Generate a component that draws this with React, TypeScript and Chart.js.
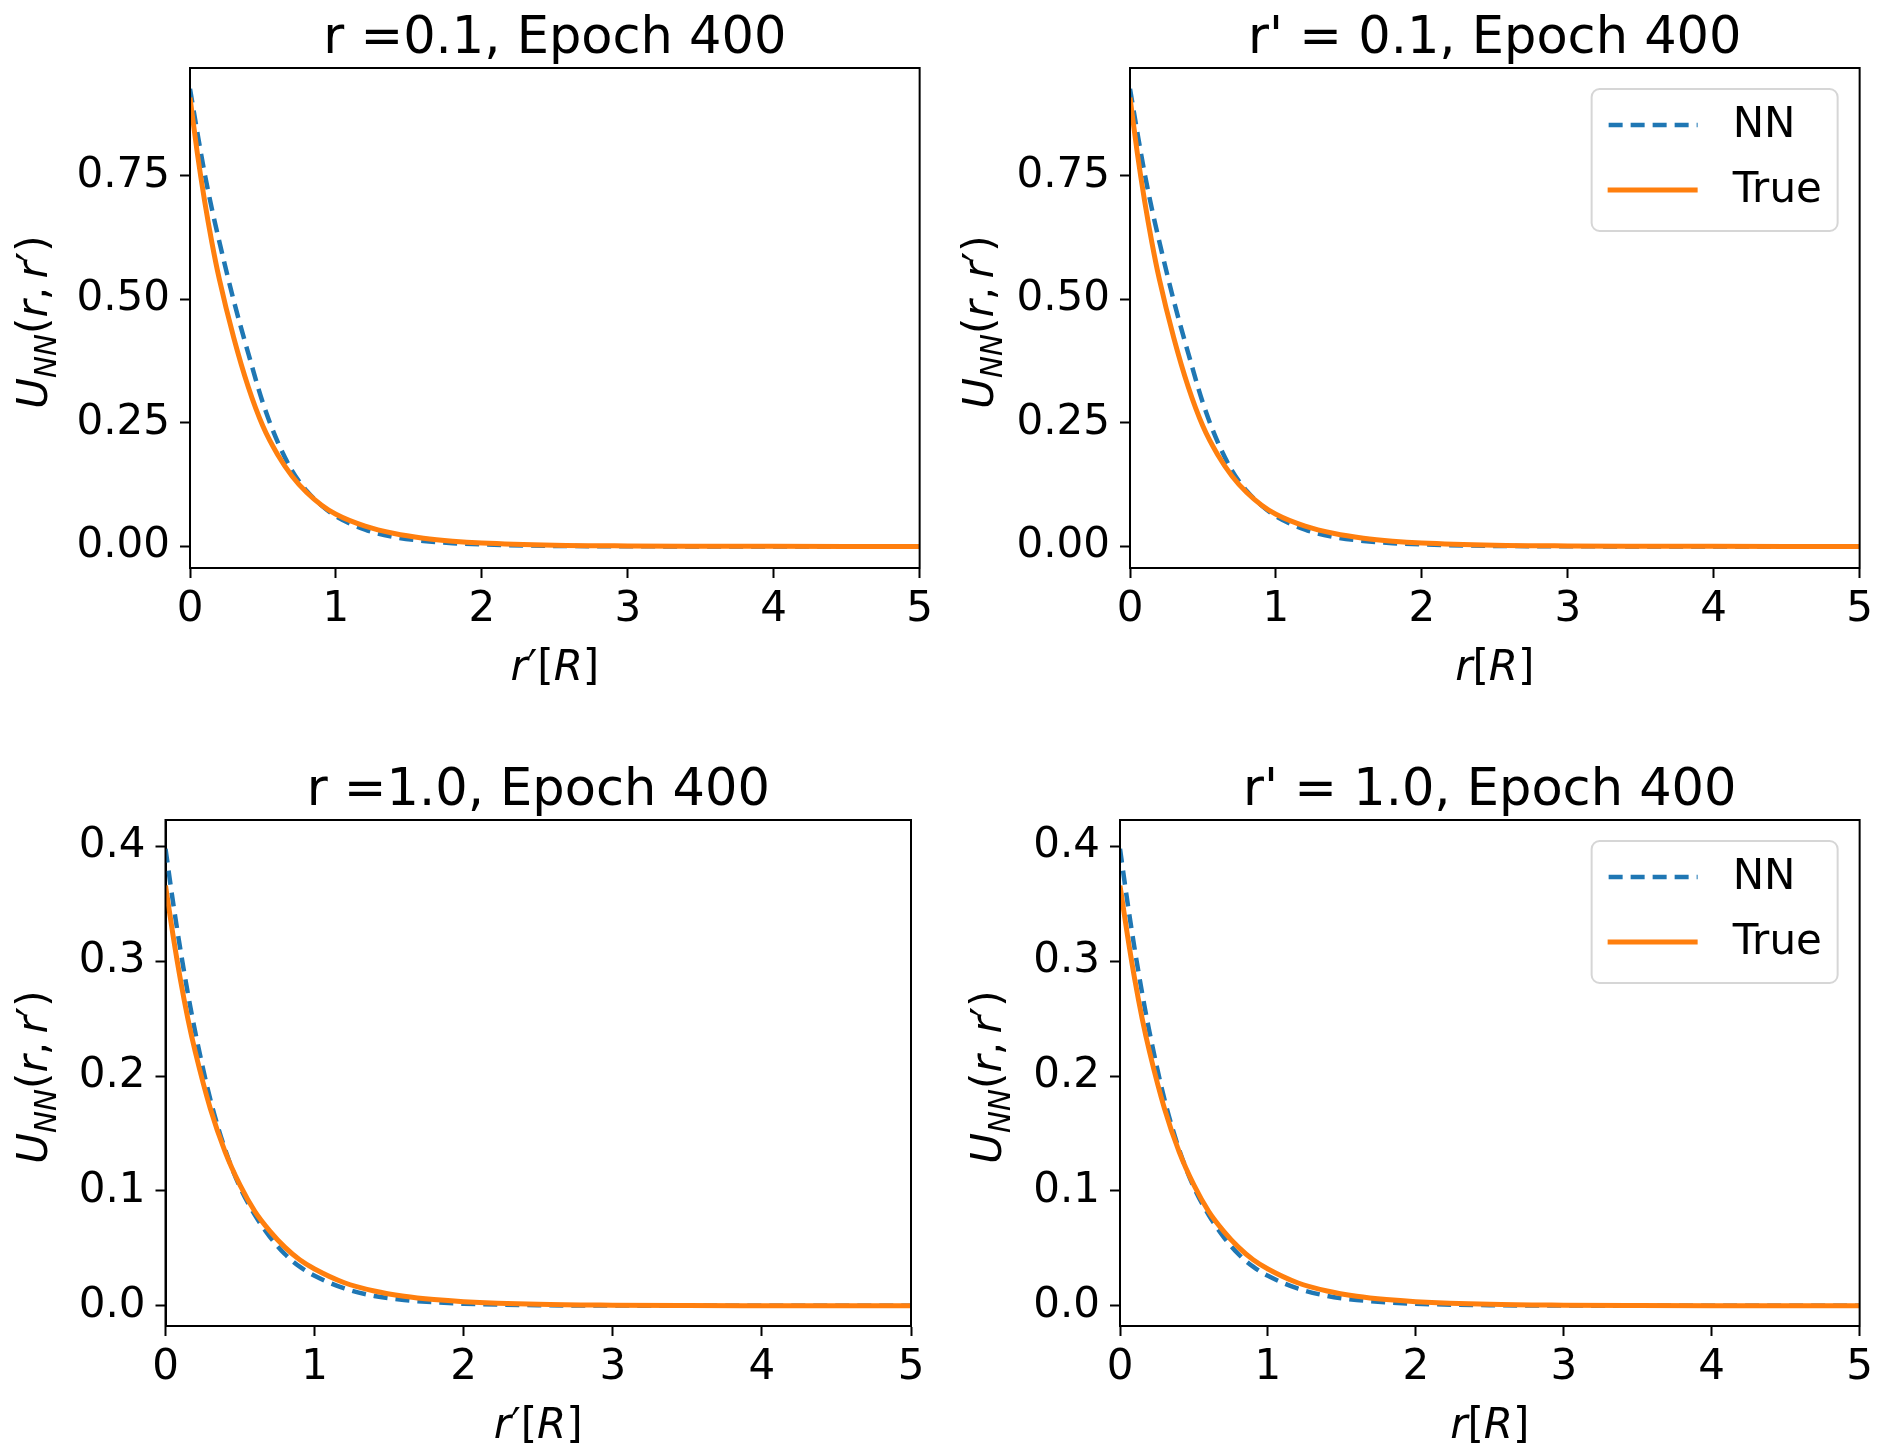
import { useEffect, useRef } from 'react';
import { Chart, registerables } from 'chart.js';

Chart.register(...registerables);

// ---------------- data ----------------
const xGrid = [0, 0.05, 0.1, 0.15, 0.2, 0.3, 0.4, 0.5, 0.6, 0.7, 0.8, 0.9, 1.0, 1.2, 1.4, 1.6, 1.8, 2.0, 2.5, 3.0, 3.5, 4.0, 4.5, 5.0];

const nnTopLeft = [0.926, 0.838, 0.755, 0.683, 0.618, 0.497, 0.39, 0.29, 0.212, 0.153, 0.112, 0.083, 0.061, 0.034, 0.019, 0.011, 0.0065, 0.004, 0.001, 0.0002, 0, 0, 0, 0];
const trueTopLeft = [0.908, 0.796, 0.699, 0.615, 0.542, 0.422, 0.322, 0.243, 0.186, 0.142, 0.109, 0.084, 0.065, 0.041, 0.026, 0.0165, 0.0105, 0.0068, 0.0024, 0.0009, 0.0003, 0.0001, 0, 0];

const nnTopRight = [0.926, 0.838, 0.755, 0.683, 0.618, 0.497, 0.39, 0.29, 0.212, 0.153, 0.112, 0.083, 0.061, 0.034, 0.019, 0.011, 0.0065, 0.004, 0.001, 0.0002, 0, 0, 0, 0];
const trueTopRight = [0.908, 0.796, 0.699, 0.615, 0.542, 0.422, 0.322, 0.243, 0.186, 0.142, 0.109, 0.084, 0.065, 0.041, 0.026, 0.0165, 0.0105, 0.0068, 0.0024, 0.0009, 0.0003, 0.0001, 0, 0];

const nnBottomLeft = [0.398, 0.352, 0.31, 0.272, 0.238, 0.18, 0.136, 0.103, 0.079, 0.06, 0.045, 0.034, 0.026, 0.015, 0.0085, 0.005, 0.003, 0.0017, 0.0004, 0.0001, 0, 0, 0, 0];
const trueBottomLeft = [0.366, 0.323, 0.284, 0.25, 0.221, 0.172, 0.134, 0.105, 0.082, 0.065, 0.051, 0.04, 0.032, 0.02, 0.0128, 0.0082, 0.0053, 0.0035, 0.0012, 0.0004, 0.0001, 0, 0, 0];

const nnBottomRight = [0.398, 0.352, 0.31, 0.272, 0.238, 0.18, 0.136, 0.103, 0.079, 0.06, 0.045, 0.034, 0.026, 0.015, 0.0085, 0.005, 0.003, 0.0017, 0.0004, 0.0001, 0, 0, 0, 0];
const trueBottomRight = [0.366, 0.323, 0.284, 0.25, 0.221, 0.172, 0.134, 0.105, 0.082, 0.065, 0.051, 0.04, 0.032, 0.02, 0.0128, 0.0082, 0.0053, 0.0035, 0.0012, 0.0004, 0.0001, 0, 0, 0];

const xTicks = [0, 1, 2, 3, 4, 5];
const xTickLabels = ['0', '1', '2', '3', '4', '5'];
const yTicksTop = [0, 0.25, 0.5, 0.75];
const yTickLabelsTop = ['0.00', '0.25', '0.50', '0.75'];
const yTicksBottom = [0, 0.1, 0.2, 0.3, 0.4];
const yTickLabelsBottom = ['0.0', '0.1', '0.2', '0.3', '0.4'];

const titles = ['r =0.1, Epoch 400', "r' = 0.1, Epoch 400", 'r =1.0, Epoch 400', "r' = 1.0, Epoch 400"];
const seriesLabels = ['NN', 'True'];

// ---------------- styling / layout ----------------
const BLUE = '#1f77b4';
const ORANGE = '#ff7f0e';
const FONT = '"DejaVu Sans"';

type Seg = { t: string; italic?: boolean; sub?: boolean };

const xLabelPrime: Seg[] = [
  { t: 'r', italic: true },
  { t: '\u2032' },
  { t: '[' },
  { t: 'R', italic: true },
  { t: ']' },
];
const xLabelPlain: Seg[] = [
  { t: 'r', italic: true },
  { t: '[' },
  { t: 'R', italic: true },
  { t: ']' },
];
const yLabelSegs: Seg[] = [
  { t: 'U', italic: true },
  { t: 'NN', italic: true, sub: true },
  { t: '(' },
  { t: 'r', italic: true },
  { t: ',\u2009' },
  { t: 'r', italic: true },
  { t: '\u2032' },
  { t: ')' },
];

type Panel = {
  canvas: { x: number; y: number; w: number; h: number };
  area: { l: number; t: number; r: number; b: number };
  yMin: number;
  yMax: number;
  yTicks: number[];
  yTickLabels: string[];
  nn: number[];
  tr: number[];
  title: string;
  xLabel: Seg[];
  yLabelX: number;
  legend: boolean;
};

const panels: Panel[] = [
  {
    canvas: { x: 0, y: 0, w: 940, h: 723 },
    area: { l: 190, t: 68, r: 921, b: 568 },
    yMin: -0.0437, yMax: 0.968,
    yTicks: yTicksTop, yTickLabels: yTickLabelsTop,
    nn: nnTopLeft, tr: trueTopLeft,
    title: titles[0], xLabel: xLabelPrime, yLabelX: 47, legend: false,
  },
  {
    canvas: { x: 940, y: 0, w: 940, h: 723 },
    area: { l: 1130, t: 68, r: 1862, b: 568 },
    yMin: -0.0437, yMax: 0.968,
    yTicks: yTicksTop, yTickLabels: yTickLabelsTop,
    nn: nnTopRight, tr: trueTopRight,
    title: titles[1], xLabel: xLabelPlain, yLabelX: 993, legend: true,
  },
  {
    canvas: { x: 0, y: 723, w: 940, h: 724 },
    area: { l: 165.5, t: 820, r: 911, b: 1326 },
    yMin: -0.0177, yMax: 0.4231,
    yTicks: yTicksBottom, yTickLabels: yTickLabelsBottom,
    nn: nnBottomLeft, tr: trueBottomLeft,
    title: titles[2], xLabel: xLabelPrime, yLabelX: 47, legend: false,
  },
  {
    canvas: { x: 940, y: 723, w: 940, h: 724 },
    area: { l: 1120, t: 820, r: 1865.5, b: 1326 },
    yMin: -0.0177, yMax: 0.4231,
    yTicks: yTicksBottom, yTickLabels: yTickLabelsBottom,
    nn: nnBottomRight, tr: trueBottomRight,
    title: titles[3], xLabel: xLabelPlain, yLabelX: 1001, legend: true,
  },
];

function segFont(s: Seg, size: number) {
  const sz = s.sub ? size * 0.7 : size;
  return `${s.italic ? 'italic ' : ''}${sz}px ${FONT}`;
}

function drawSegs(ctx: CanvasRenderingContext2D, segs: Seg[], cx: number, baseline: number, size: number) {
  let total = 0;
  const widths = segs.map((s) => {
    ctx.font = segFont(s, size);
    const w = ctx.measureText(s.t).width;
    total += w;
    return w;
  });
  let x = cx - total / 2;
  ctx.textAlign = 'left';
  ctx.textBaseline = 'alphabetic';
  segs.forEach((s, i) => {
    ctx.font = segFont(s, size);
    ctx.fillText(s.t, x, baseline + (s.sub ? size * 0.22 : 0));
    x += widths[i];
  });
}

function PanelChart({ p }: { p: Panel }) {
  const ref = useRef<HTMLCanvasElement | null>(null);
  useEffect(() => {
    const canvas = ref.current;
    if (!canvas) return;
    const c = p.canvas;
    const a = p.area;
    const decor = {
      id: 'decor',
      afterDraw(chart: any) {
        const ctx: CanvasRenderingContext2D = chart.ctx;
        const ca = chart.chartArea;
        ctx.save();
        // frame
        ctx.strokeStyle = '#000';
        ctx.lineWidth = 2;
        ctx.strokeRect(ca.left, ca.top, ca.right - ca.left, ca.bottom - ca.top);
        ctx.fillStyle = '#000';
        const midX = (ca.left + ca.right) / 2;
        const midY = (ca.top + ca.bottom) / 2;
        // title
        ctx.font = `51px ${FONT}`;
        ctx.textAlign = 'center';
        ctx.textBaseline = 'alphabetic';
        ctx.fillText(p.title, midX, ca.top - 15);
        // x label
        drawSegs(ctx, p.xLabel, midX, ca.bottom + 111.5, 42);
        // y label
        ctx.save();
        ctx.translate(p.yLabelX - c.x, midY + 4);
        ctx.rotate(-Math.PI / 2);
        drawSegs(ctx, yLabelSegs, 0, 0, 42);
        ctx.restore();
        // legend
        if (p.legend) {
          const w = 246, h = 142;
          const bx = ca.right - 22 - w;
          const by = ca.top + 21;
          ctx.beginPath();
          ctx.roundRect(bx, by, w, h, 8);
          ctx.fillStyle = 'rgba(255,255,255,0.8)';
          ctx.fill();
          ctx.strokeStyle = '#d6d6d6';
          ctx.lineWidth = 2;
          ctx.stroke();
          const rows = [by + 36, by + 101];
          // NN handle
          ctx.strokeStyle = BLUE;
          ctx.lineWidth = 4.5;
          ctx.setLineDash([14, 8]);
          ctx.beginPath();
          ctx.moveTo(bx + 17, rows[0]);
          ctx.lineTo(bx + 106, rows[0]);
          ctx.stroke();
          ctx.setLineDash([]);
          ctx.strokeStyle = ORANGE;
          ctx.lineWidth = 5;
          ctx.beginPath();
          ctx.moveTo(bx + 16, rows[1]);
          ctx.lineTo(bx + 106, rows[1]);
          ctx.stroke();
          ctx.fillStyle = '#000';
          ctx.font = `42px ${FONT}`;
          ctx.textAlign = 'left';
          ctx.textBaseline = 'middle';
          ctx.fillText(seriesLabels[0], bx + 141, rows[0] + 1);
          ctx.fillText(seriesLabels[1], bx + 141, rows[1] + 1);
        }
        ctx.restore();
      },
    };

    const tickFont = { family: 'DejaVu Sans', size: 42 };
    const chart = new Chart(canvas, {
      type: 'line',
      data: {
        datasets: [
          {
            label: seriesLabels[0],
            data: xGrid.map((x, i) => ({ x, y: p.nn[i] })),
            borderColor: BLUE,
            borderWidth: 4.5,
            borderDash: [14, 8],
            pointRadius: 0,
            fill: false,
            cubicInterpolationMode: 'monotone',
            order: 1,
          },
          {
            label: seriesLabels[1],
            data: xGrid.map((x, i) => ({ x, y: p.tr[i] })),
            borderColor: ORANGE,
            borderWidth: 5,
            pointRadius: 0,
            fill: false,
            cubicInterpolationMode: 'monotone',
            order: 0,
          },
        ],
      },
      options: {
        responsive: false,
        animation: false,
        events: [],
        layout: { padding: { left: 0, top: a.t - c.y, right: c.x + c.w - a.r, bottom: 0 } },
        plugins: { legend: { display: false }, title: { display: false }, tooltip: { enabled: false } },
        scales: {
          x: {
            type: 'linear',
            min: 0,
            max: 5,
            afterBuildTicks: (s: any) => { s.ticks = xTicks.map((v) => ({ value: v })); },
            afterFit: (s: any) => { s.height = c.y + c.h - a.b; },
            ticks: {
              callback: (_v: any, i: number) => xTickLabels[i],
              font: tickFont,
              color: '#000',
              padding: 7,
              maxRotation: 0,
              autoSkip: false,
            },
            grid: { drawOnChartArea: false, drawTicks: true, tickLength: 10, tickWidth: 2, tickColor: '#000' },
            border: { display: true, color: '#000', width: 2 },
          },
          y: {
            type: 'linear',
            min: p.yMin,
            max: p.yMax,
            afterBuildTicks: (s: any) => { s.ticks = p.yTicks.map((v) => ({ value: v })); },
            afterFit: (s: any) => { s.width = a.l - c.x; },
            ticks: {
              callback: (_v: any, i: number) => p.yTickLabels[i],
              font: tickFont,
              color: '#000',
              padding: 10,
              autoSkip: false,
            },
            grid: { drawOnChartArea: false, drawTicks: true, tickLength: 10, tickWidth: 2, tickColor: '#000' },
            border: { display: true, color: '#000', width: 2 },
          },
        },
      } as any,
      plugins: [decor],
    });
    return () => chart.destroy();
  }, [p]);

  return (
    <canvas
      ref={ref}
      width={p.canvas.w}
      height={p.canvas.h}
      style={{ position: 'absolute', left: p.canvas.x, top: p.canvas.y, width: p.canvas.w, height: p.canvas.h }}
    />
  );
}

export default function App() {
  return (
    <div style={{ position: 'absolute', left: 0, top: 0, width: 1880, height: 1447, background: '#fff', overflow: 'hidden' }}>
      {panels.map((p, i) => (
        <PanelChart key={i} p={p} />
      ))}
    </div>
  );
}
